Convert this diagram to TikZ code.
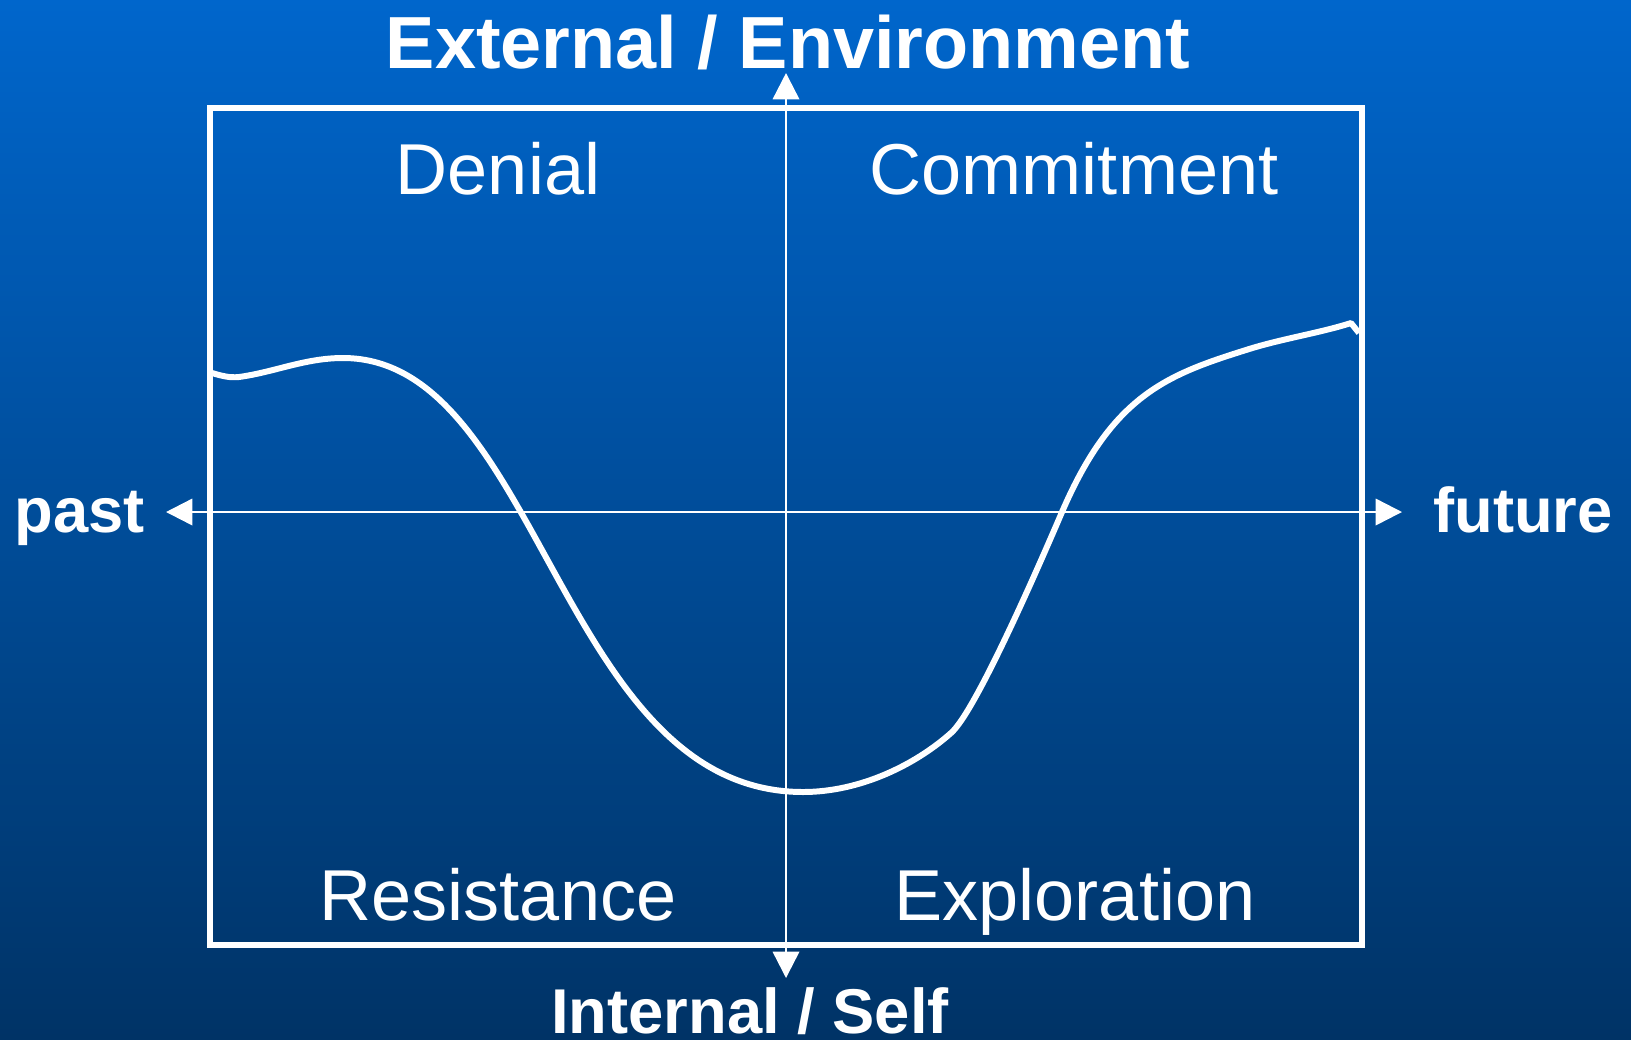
\documentclass[tikz,border=0pt]{standalone}
\usepackage{fontspec}
\setmainfont{Liberation Sans}
\usetikzlibrary{arrows.meta}
\definecolor{bgtop}{HTML}{0066CC}
\definecolor{bgbottom}{HTML}{003366}

\begin{document}
\begin{tikzpicture}[x=0.01cm, y=-0.01cm,
    axis/.style={white, line width=0.7pt,
        {Triangle[length=7.5pt,width=7.5pt]}-{Triangle[length=7.5pt,width=7.5pt]}},
    frame/.style={white, line width=1.5pt},
    curve/.style={white, line width=1.7pt, line join=round},
    phase/.style={text=white, font=\fontsize{20.5}{25}\selectfont, anchor=base},
    pole/.style={text=white, font=\fontsize{18}{22}\selectfont\bfseries, anchor=base}]
    % background
    \shade[top color=bgtop, bottom color=bgbottom] (0,0) rectangle (1631,1039);
    \useasboundingbox (0,0) rectangle (1631,1039);

    % frame
    \draw[frame] (210,108) rectangle (1362,945);

    % axes
    \coordinate (pastend) at (166,512);
    \coordinate (futureend) at (1402,512);
    \coordinate (extend) at (786,73);
    \coordinate (intend) at (786,978);
    \draw[axis] (pastend) -- (futureend);
    \draw[axis] (intend) -- (extend);

    % axis labels
    \node[pole, font=\fontsize{21}{25}\selectfont\bfseries] (external) at (788,68) {External / Environment};
    \node[pole] (internal) at (750,1033) {Internal / Self};
    \node[pole] (past) at (80,532) {past};
    \node[pole] (future) at (1523,532) {future};

    % quadrants
    \node[phase] (denial) at (498,194) {Denial};
    \node[phase] (commitment) at (1074,194) {Commitment};
    \node[phase] (resistance) at (498,920) {Resistance};
    \node[phase] (exploration) at (1075,920) {Exploration};

    % change curve
    \draw[curve] (212,373) .. controls (222,376) and (230,378) .. (239,377)
        .. controls (275,372) and (305,358) .. (343,358)
        .. controls (540,358) and (560,792) .. (803,792)
        .. controls (860,792) and (915,765) .. (951,733)
        .. controls (975,712) and (1035,575) .. (1062,512)
        .. controls (1112,396) and (1166,375) .. (1246,350)
        .. controls (1280,339) and (1320,333) .. (1351,323)
        -- (1359,333);
\end{tikzpicture}
\end{document}
